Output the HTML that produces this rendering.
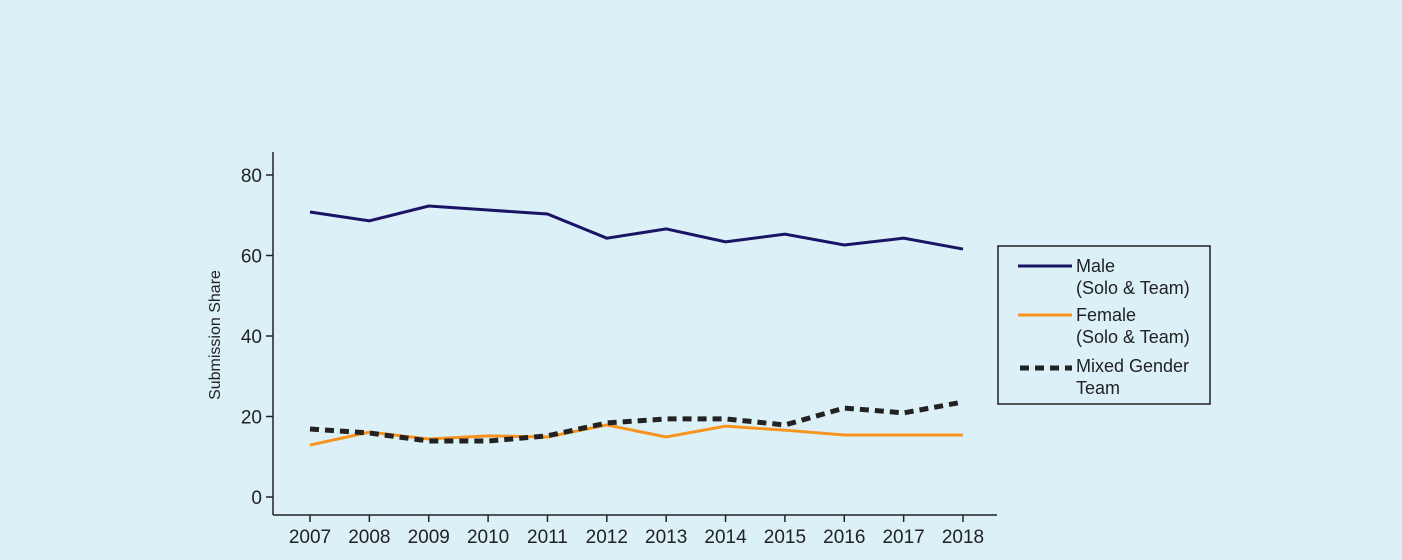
<!DOCTYPE html>
<html><head><meta charset="utf-8"><style>
body{margin:0;background:#dcf0f8;}
svg{display:block;font-family:"Liberation Sans",sans-serif;}
</style></head><body>
<svg width="1402" height="560">
<rect width="1402" height="560" fill="#dcf0f8"/>
<g id="plot"></g>
<g>
<rect x="998" y="246" width="212" height="158" fill="none" stroke="#222" stroke-width="1.5"/>
<line x1="1018" y1="266" x2="1072" y2="266" stroke="#1b1464" stroke-width="3"/>
<text x="1076" y="272" font-size="18" fill="#222">Male</text>
<text x="1076" y="294" font-size="18" fill="#222">(Solo &amp; Team)</text>
<line x1="1018" y1="315" x2="1072" y2="315" stroke="#f7931e" stroke-width="3"/>
<text x="1076" y="321" font-size="18" fill="#222">Female</text>
<text x="1076" y="343" font-size="18" fill="#222">(Solo &amp; Team)</text>
<line x1="1020" y1="368" x2="1072" y2="368" stroke="#222" stroke-width="5" stroke-dasharray="9,6"/>
<text x="1076" y="372" font-size="18" fill="#222">Mixed Gender</text>
<text x="1076" y="394" font-size="18" fill="#222">Team</text>
</g>
</svg>
<script>
const years=[2007,2008,2009,2010,2011,2012,2013,2014,2015,2016,2017,2018];
const male=[70.8,68.6,72.3,71.3,70.3,64.3,66.6,63.4,65.3,62.6,64.3,61.6];
const female=[12.9,16.1,14.4,15.2,14.9,17.9,14.9,17.6,16.6,15.4,15.4,15.4];
const mixed=[16.9,15.9,13.9,13.9,15.2,18.4,19.4,19.4,17.9,22.1,20.9,23.6];
const yTicks=[0,20,40,60,80];
const NS="http://www.w3.org/2000/svg";
const g=document.getElementById('plot');
const x=i=>310+i*(963-310)/(years.length-1);
const y=v=>497-v*(497-175)/80;
function mk(t,a){const e=document.createElementNS(NS,t);for(const k in a)e.setAttribute(k,a[k]);g.appendChild(e);return e;}
let e=mk('line',{x1:273,y1:152,x2:273,y2:515,stroke:'#222','stroke-width':1.5});


e=mk('line',{x1:273,y1:515,x2:997,y2:515,stroke:'#222','stroke-width':1.5});


yTicks.forEach(v=>{
 let t=mk('line',{x1:266,y1:y(v),x2:273,y2:y(v),stroke:'#222','stroke-width':1.5});
 
 
 let l=mk('text',{x:262,y:y(v)+7,'text-anchor':'end','font-size':19,fill:'#222'});l.textContent=v;
 
 
});
years.forEach((yr,i)=>{
 let t=mk('line',{x1:x(i),y1:515,x2:x(i),y2:522,stroke:'#222','stroke-width':1.5});
 
 
 let l=mk('text',{x:x(i),y:543,'text-anchor':'middle','font-size':19,fill:'#222'});l.textContent=yr;
 
 
});
let yt=mk('text',{x:220,y:335,'text-anchor':'middle','font-size':16,fill:'#222',transform:'rotate(-90 220 335)'});
yt.textContent='Submission Share';


function line(d,c,w,dash,name){
 const p=d.map((v,i)=>(i?'L':'M')+x(i)+','+y(v)).join(' ');
 const a={d:p,fill:'none',stroke:c,'stroke-width':w};if(dash)a['stroke-dasharray']=dash;
 const l=mk('path',a);
 
 
}
line(female,'#f7931e',3,null,'female-line');
line(mixed,'#222',5,'9,6','mixed-line');
line(male,'#1b1464',3,null,'male-line');
</script>
</body></html>
